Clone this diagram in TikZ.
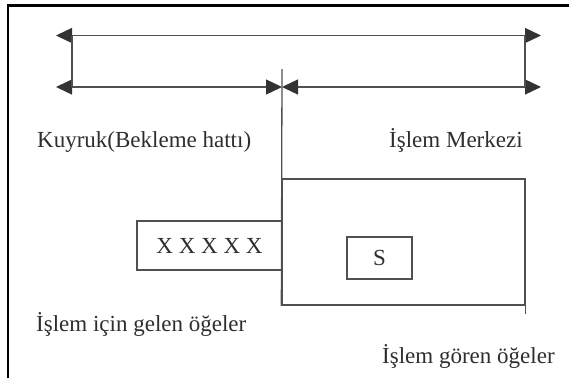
\documentclass[tikz,border=0pt]{standalone}
\usepackage{fontspec}
\setmainfont{Liberation Serif}
\usetikzlibrary{arrows.meta}
\definecolor{ink}{HTML}{505050}
\definecolor{tipink}{HTML}{333333}
\definecolor{textink}{HTML}{2E2E2E}
\tikzset{
  line/.style={draw=ink, line width=1.3pt},
  tipmark/.tip={Triangle[length=16pt,width=15pt,color=tipink]},
  span/.style={line, tipmark-tipmark},
  box/.style={line, rectangle, inner sep=0pt},
  label/.style={anchor=base west, inner sep=0pt, text=textink,
                font=\fontsize{23}{27}\selectfont},
  frame/.style={draw=black, line width=2.5pt},
}
\begin{document}
\begin{tikzpicture}[x=1pt,y=-1pt]
\useasboundingbox (0,0) rectangle (569,378);
% page frame: left and top edges only
\draw[frame] (8,378) -- (8,5.5) -- (569,5.5);

% span arrows and their end points
\coordinate (topL) at (56,35.5);
\coordinate (topR) at (541,35.5);
\coordinate (lowL) at (56,87);
\coordinate (lowM) at (282,87);
\coordinate (lowR) at (541,87);
\coordinate (linkLt) at (72,35.5);
\coordinate (linkLb) at (72,87);
\coordinate (linkRt) at (525,35.5);
\coordinate (linkRb) at (525,87);
\coordinate (divtop) at (282,69);

\draw[span] (topL) -- (topR);
\draw[span] (lowL) -- (lowM);
\draw[span] (lowM) -- (lowR);
\draw[line] (linkLt) -- (linkLb);
\draw[line] (linkRt) -- (linkRb);

% service centre, queue and server
\node[box, minimum width=243pt, minimum height=126pt] (centre) at (403.5,242) {};
\node[box, minimum width=145pt, minimum height=49pt,
      font=\fontsize{23}{27}\selectfont, text=textink] (queue) at (209.5,245.5) {X X X X X};
\node[box, minimum width=65pt, minimum height=42pt,
      font=\fontsize{23}{27}\selectfont, text=textink] (server) at (379.5,258) {S};
\draw[line] (divtop) -- (centre.south west);
\draw[line] (centre.south east) -- ++(0,8);

% labels
\node[label] (lqueue) at (37,147) {Kuyruk(Bekleme hattı)};
\node[label] (lcentre) at (389,147) {İşlem Merkezi};
\node[label] (lin) at (36,331) {İşlem için gelen öğeler};
\node[label] (lout) at (382,363) {İşlem gören öğeler};
\end{tikzpicture}
\end{document}
